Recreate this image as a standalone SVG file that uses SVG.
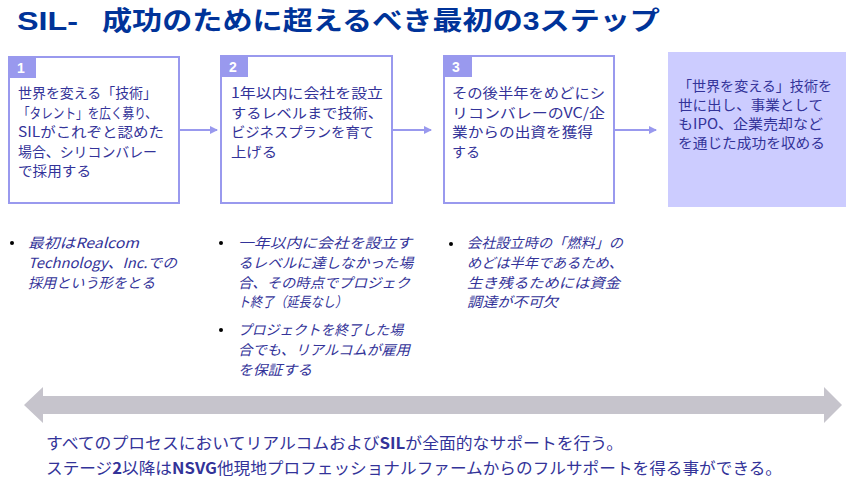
<svg xmlns="http://www.w3.org/2000/svg" width="856" height="488" viewBox="0 0 856 488">
<style>
.title{font-family:"Liberation Sans","Noto Sans CJK JP",sans-serif;font-size:26px;font-weight:bold;fill:#003399}
.t{font-family:"Noto Sans CJK JP",sans-serif;font-size:14px;fill:#333399}
.it{font-family:"Noto Sans CJK JP",sans-serif;font-size:14px;fill:#333399;font-style:italic}
.bt{font-family:"Noto Sans CJK JP",sans-serif;font-size:16px;fill:#333399}
.box{fill:#fff;stroke:#9999ee;stroke-width:2}
.num{fill:#9999ee}
.numt{font-family:"Liberation Sans",sans-serif;font-size:14px;font-weight:bold;fill:#fff}
.conn{stroke:#9999ee;stroke-width:2;fill:none}
</style>
<defs>
<marker id="ah" markerWidth="8" markerHeight="8" refX="7" refY="4" orient="auto" markerUnits="userSpaceOnUse">
<path d="M0,0 L8,4 L0,8 Z" fill="#9999ee"/>
</marker>
</defs>
<rect width="856" height="488" fill="#fff"/>
<g id="title">
<text class="title" x="17" y="30" textLength="61" lengthAdjust="spacingAndGlyphs">SIL-</text>
<text class="title" x="102" y="30" textLength="558" lengthAdjust="spacingAndGlyphs">成功のために超えるべき最初の3ステップ</text>
</g>
<g id="connectors">
<line class="conn" x1="180" y1="130" x2="217" y2="130" marker-end="url(#ah)"/>
<line class="conn" x1="393" y1="130" x2="431" y2="130" marker-end="url(#ah)"/>
<line class="conn" x1="615" y1="130" x2="656" y2="130" marker-end="url(#ah)"/>
</g>
<g id="step1">
<rect class="box" x="9" y="57" width="170" height="146"/>
<rect class="num" x="9" y="57" width="27" height="21"/>
<text class="numt" x="17" y="73">1</text>
<text class="t" x="18" y="98" textLength="139" lengthAdjust="spacingAndGlyphs">世界を変える「技術」</text>
<text class="t" x="18" y="118" textLength="139" lengthAdjust="spacingAndGlyphs">「タレント」を広く募り、</text>
<text class="t" x="18" y="137" textLength="146" lengthAdjust="spacingAndGlyphs">SILがこれぞと認めた</text>
<text class="t" x="18" y="157" textLength="139" lengthAdjust="spacingAndGlyphs">場合、シリコンバレー</text>
<text class="t" x="18" y="176" textLength="73" lengthAdjust="spacingAndGlyphs">で採用する</text>
</g>
<g id="step2">
<rect class="box" x="221" y="56" width="171" height="147"/>
<rect class="num" x="221" y="56" width="27" height="21"/>
<text class="numt" x="229" y="72">2</text>
<text class="t" x="231" y="98" textLength="152" lengthAdjust="spacingAndGlyphs">1年以内に会社を設立</text>
<text class="t" x="231" y="118" textLength="152" lengthAdjust="spacingAndGlyphs">するレベルまで技術、</text>
<text class="t" x="231" y="137" textLength="143" lengthAdjust="spacingAndGlyphs">ビジネスプランを育て</text>
<text class="t" x="231" y="157" textLength="46" lengthAdjust="spacingAndGlyphs">上げる</text>
</g>
<g id="step3">
<rect class="box" x="444" y="56" width="170" height="147"/>
<rect class="num" x="444" y="56" width="28" height="21"/>
<text class="numt" x="452" y="72">3</text>
<text class="t" x="452" y="98" textLength="153" lengthAdjust="spacingAndGlyphs">その後半年をめどにシ</text>
<text class="t" x="452" y="118" textLength="153" lengthAdjust="spacingAndGlyphs">リコンバレーのVC/企</text>
<text class="t" x="452" y="137" textLength="141" lengthAdjust="spacingAndGlyphs">業からの出資を獲得</text>
<text class="t" x="452" y="157" textLength="28" lengthAdjust="spacingAndGlyphs">する</text>
</g>
<g id="goal">
<rect x="668" y="52" width="178" height="155" fill="#ccccff"/>
<text class="t" x="678" y="91" textLength="154" lengthAdjust="spacingAndGlyphs">「世界を変える」技術を</text>
<text class="t" x="678" y="110" textLength="145" lengthAdjust="spacingAndGlyphs">世に出し、事業として</text>
<text class="t" x="678" y="129" textLength="145" lengthAdjust="spacingAndGlyphs">もIPO、企業売却など</text>
<text class="t" x="678" y="148" textLength="147" lengthAdjust="spacingAndGlyphs">を通じた成功を収める</text>
</g>
<g id="notes1">
<circle cx="12" cy="243" r="2" fill="#000"/>
<text class="it" x="28" y="248" textLength="111" lengthAdjust="spacingAndGlyphs">最初はRealcom</text>
<text class="it" x="28" y="268" textLength="149" lengthAdjust="spacingAndGlyphs">Technology、Inc.での</text>
<text class="it" x="28" y="288" textLength="127" lengthAdjust="spacingAndGlyphs">採用という形をとる</text>
</g>
<g id="notes2">
<circle cx="221" cy="243" r="2" fill="#000"/>
<text class="it" x="238" y="248" textLength="174" lengthAdjust="spacingAndGlyphs">一年以内に会社を設立す</text>
<text class="it" x="238" y="268" textLength="175" lengthAdjust="spacingAndGlyphs">るレベルに達しなかった場</text>
<text class="it" x="238" y="288" textLength="172" lengthAdjust="spacingAndGlyphs">合、その時点でプロジェク</text>
<text class="it" x="238" y="307" textLength="109" lengthAdjust="spacingAndGlyphs">ト終了（延長なし）</text>
<circle cx="221" cy="330" r="2" fill="#000"/>
<text class="it" x="238" y="335" textLength="165" lengthAdjust="spacingAndGlyphs">プロジェクトを終了した場</text>
<text class="it" x="238" y="355" textLength="172" lengthAdjust="spacingAndGlyphs">合でも、リアルコムが雇用</text>
<text class="it" x="238" y="375" textLength="74" lengthAdjust="spacingAndGlyphs">を保証する</text>
</g>
<g id="notes3">
<circle cx="451" cy="244" r="2" fill="#000"/>
<text class="it" x="467" y="248" textLength="156" lengthAdjust="spacingAndGlyphs">会社設立時の「燃料」の</text>
<text class="it" x="467" y="268" textLength="156" lengthAdjust="spacingAndGlyphs">めどは半年であるため、</text>
<text class="it" x="467" y="288" textLength="153" lengthAdjust="spacingAndGlyphs">生き残るためには資金</text>
<text class="it" x="467" y="307" textLength="91" lengthAdjust="spacingAndGlyphs">調達が不可欠</text>
</g>
<g id="support">
<path d="M24,405 L43,387 L43,396 L824,396 L824,387 L842,405 L824,423 L824,414 L43,414 L43,423 Z" fill="#c6c4cc"/>
<text class="bt" x="46" y="449" textLength="577" lengthAdjust="spacingAndGlyphs">すべてのプロセスにおいてリアルコムおよび<tspan font-weight="bold">SIL</tspan>が全面的なサポートを行う。</text>
<text class="bt" x="46" y="474" textLength="736" lengthAdjust="spacingAndGlyphs">ステージ<tspan font-weight="bold">2</tspan>以降は<tspan font-weight="bold">NSVG</tspan>他現地プロフェッショナルファームからのフルサポートを得る事ができる。</text>
</g>
</svg>
